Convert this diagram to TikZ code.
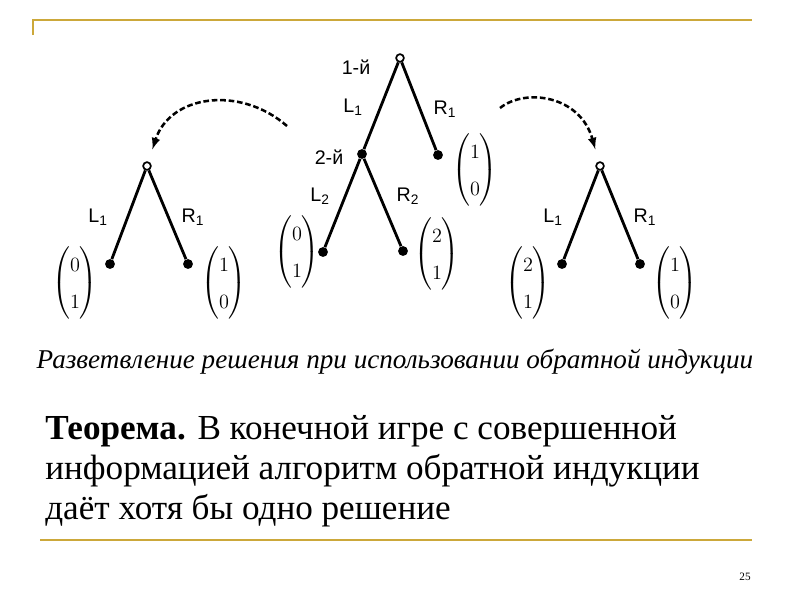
\documentclass[tikz,border=0pt]{standalone}
\usepackage{fontspec}
\usepackage{amsmath}
\setmainfont{Liberation Serif}
\newfontfamily\lblfont{Liberation Sans}
\definecolor{slidegold}{RGB}{204,168,58}
\renewcommand{\arraystretch}{1.45}

\begin{document}
\begin{tikzpicture}[x=0.025cm,y=-0.025cm,
    opendot/.style={circle, draw, line width=1.2pt, fill=white, inner sep=0pt, minimum size=5.5pt},
    leafdot/.style={circle, fill, inner sep=0pt, minimum size=7pt},
    branch/.style={line width=2pt},
    movelbl/.style={font=\lblfont\fontsize{14}{16}\selectfont, inner sep=0pt},
    payoff/.style={font=\Large, inner sep=0pt},
    dasharr/.style={line width=1.8pt, dash pattern=on 4pt off 2pt, -latex, shorten >=9pt}]
    \useasboundingbox (0,0) rectangle (800,600);
    % slide frame
    \draw[slidegold, line width=1.5pt] (33,35) -- (33,20) -- (752,20);
    \draw[slidegold, line width=1.8pt] (40,540) -- (752,540);
    \node[font=\fontsize{8}{9}\selectfont] (pagenum) at (745,577) {25};

    % middle tree
    \node[opendot] (root) at (400,58) {};
    \node[leafdot] (second) at (362,154) {};
    \node[leafdot] (rone) at (438,155) {};
    \node[leafdot] (ltwo) at (323,252) {};
    \node[leafdot] (rtwo) at (403,251) {};
    \draw[branch] (root) -- (second);
    \draw[branch] (root) -- (rone);
    \draw[branch] (second) -- (ltwo);
    \draw[branch] (second) -- (rtwo);
    \node[movelbl] (firstlbl) at (356,67) {1-й};
    \node[movelbl] (secondlbl) at (329,157) {2-й};
    \node[movelbl] (lonelbl) at (353,107) {L\textsubscript{1}};
    \node[movelbl] (ronelbl) at (445,109) {R\textsubscript{1}};
    \node[movelbl] (ltwolbl) at (320,196) {L\textsubscript{2}};
    \node[movelbl] (rtwolbl) at (408,196) {R\textsubscript{2}};
    \node[payoff] (vrone) at (475,170) {$\begin{pmatrix}1\\0\end{pmatrix}$};
    \node[payoff] (vltwo) at (297,252) {$\begin{pmatrix}0\\1\end{pmatrix}$};
    \node[payoff] (vrtwo) at (437,254) {$\begin{pmatrix}2\\1\end{pmatrix}$};

    % left tree
    \node[opendot] (lroot) at (147,166) {};
    \node[leafdot] (lleft) at (110,264) {};
    \node[leafdot] (lright) at (188,264) {};
    \draw[branch] (lroot) -- (lleft);
    \draw[branch] (lroot) -- (lright);
    \node[movelbl] (llbl) at (98,217) {L\textsubscript{1}};
    \node[movelbl] (rlbl) at (193,217) {R\textsubscript{1}};
    \node[payoff] (vlleft) at (75,283) {$\begin{pmatrix}0\\1\end{pmatrix}$};
    \node[payoff] (vlright) at (224,283) {$\begin{pmatrix}1\\0\end{pmatrix}$};

    % right tree
    \node[opendot] (rroot) at (600,166) {};
    \node[leafdot] (rleft) at (562,264) {};
    \node[leafdot] (rright) at (640,264) {};
    \draw[branch] (rroot) -- (rleft);
    \draw[branch] (rroot) -- (rright);
    \node[movelbl] (rllbl) at (553,217) {L\textsubscript{1}};
    \node[movelbl] (rrlbl) at (645,217) {R\textsubscript{1}};
    \node[payoff] (vrleft) at (528,283) {$\begin{pmatrix}2\\1\end{pmatrix}$};
    \node[payoff] (vrright) at (675,283) {$\begin{pmatrix}1\\0\end{pmatrix}$};

    % backward induction arrows
    \coordinate (lstart) at (287,126);
    \coordinate (rstart) at (500,108);
    \draw[dasharr] (lstart) .. controls (240,85) and (170,95) .. (lroot);
    \draw[dasharr] (rstart) .. controls (525,88) and (580,95) .. (rroot);

    \node[font=\itshape\fontsize{19.3}{22}\selectfont, anchor=base] (caption) at (395,368)
      {Разветвление решения при использовании обратной индукции};
    \node[font=\fontsize{25}{28.5}\selectfont, align=left, anchor=north west, inner sep=0pt] (theorem) at (45,415)
      {\textbf{Теорема.} В конечной игре с совершенной\\информацией алгоритм обратной индукции\\даёт хотя бы одно решение};
\end{tikzpicture}
\end{document}
